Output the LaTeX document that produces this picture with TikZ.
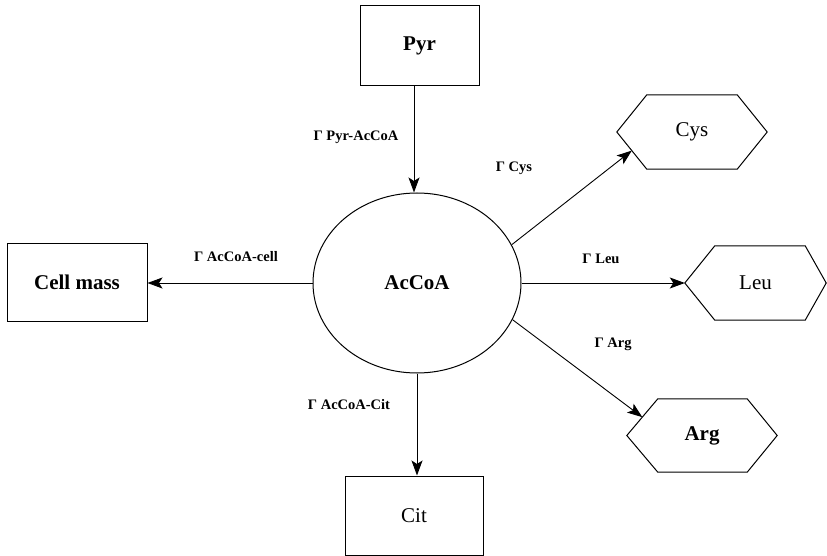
\documentclass[tikz,border=0pt]{standalone}
\usepackage{fontspec}
\setmainfont{Liberation Serif}
\usetikzlibrary{arrows.meta,shapes.geometric,calc}
\begin{document}
\begin{tikzpicture}[x=1pt,y=1pt,
  every node/.style={font=\fontsize{21}{24}\selectfont},
  rbox/.style={draw,line width=1pt,inner sep=0pt},
  hexbox/.style={inner sep=0pt,minimum width=150pt,minimum height=74pt},
  hexline/.style={draw,line width=1pt},
  lab/.style={font=\bfseries\fontsize{14.5}{17}\selectfont,inner sep=0pt},
  flow/.style={line width=0.9pt,-{Stealth[length=15pt,width=11pt,inset=3.5pt]}}]
\useasboundingbox (0,0) rectangle (827,-556);
% boxes
\node[rbox,minimum width=119pt,minimum height=80pt] (pyr) at (419.5,-46) {\textbf{Pyr}};
\node[rbox,minimum width=140pt,minimum height=78pt] (cell) at (77,-282) {\textbf{Cell mass}};
\node[rbox,minimum width=138pt,minimum height=79pt] (cit) at (414,-515.5) {Cit};
\node[draw,ellipse,line width=1pt,inner sep=0pt,minimum width=208pt,minimum height=180pt] (acc) at (417,-283) {\textbf{AcCoA}};
% hexagons
\node[hexbox] (cys) at (692,-132) {Cys};
\draw[hexline] (cys.west) -- ([xshift=30pt]cys.north west) -- ([xshift=-30pt]cys.north east) -- (cys.east) -- ([xshift=-30pt]cys.south east) -- ([xshift=30pt]cys.south west) -- cycle;
\node[hexbox,minimum width=141pt] (leu) at (755.5,-283) {Leu};
\draw[hexline] (leu.west) -- ([xshift=30pt]leu.north west) -- ([xshift=-21pt]leu.north east) -- (leu.east) -- ([xshift=-21pt]leu.south east) -- ([xshift=30pt]leu.south west) -- cycle;
\node[hexbox,minimum height=73pt] (arg) at (702,-435.5) {\textbf{Arg}};
\draw[hexline] (arg.west) -- ([xshift=31pt]arg.north west) -- ([xshift=-30pt]arg.north east) -- (arg.east) -- ([xshift=-30pt]arg.south east) -- ([xshift=31pt]arg.south west) -- cycle;
\coordinate (cysin) at ($(cys.west)!0.5!([xshift=30pt]cys.south west)$);
\coordinate (argin) at ($(arg.west)!0.5!([xshift=31pt]arg.north west)$);
% connectors
\draw[flow] ([xshift=-3pt]acc.north |- pyr.south) -- ([xshift=-3pt]acc.north);
\draw[flow] (acc.west) -- (acc.west -| cell.east);
\draw[flow] (acc.south) -- (acc.south |- cit.north);
\draw[flow] (acc.22) -- (cysin);
\draw[flow] (acc.east) -- (leu.west);
\draw[flow] (acc.-21) -- (argin);
% labels
\node[lab] (lpyr) at (356,-137) {Γ Pyr-AcCoA};
\node[lab] (lcys) at (514,-168) {Γ Cys};
\node[lab] (lleu) at (601,-259) {Γ Leu};
\node[lab] (larg) at (613,-344) {Γ Arg};
\node[lab] (lcell) at (236,-257) {Γ AcCoA-cell};
\node[lab] (lcit) at (349,-405) {Γ AcCoA-Cit};
\end{tikzpicture}
\end{document}
